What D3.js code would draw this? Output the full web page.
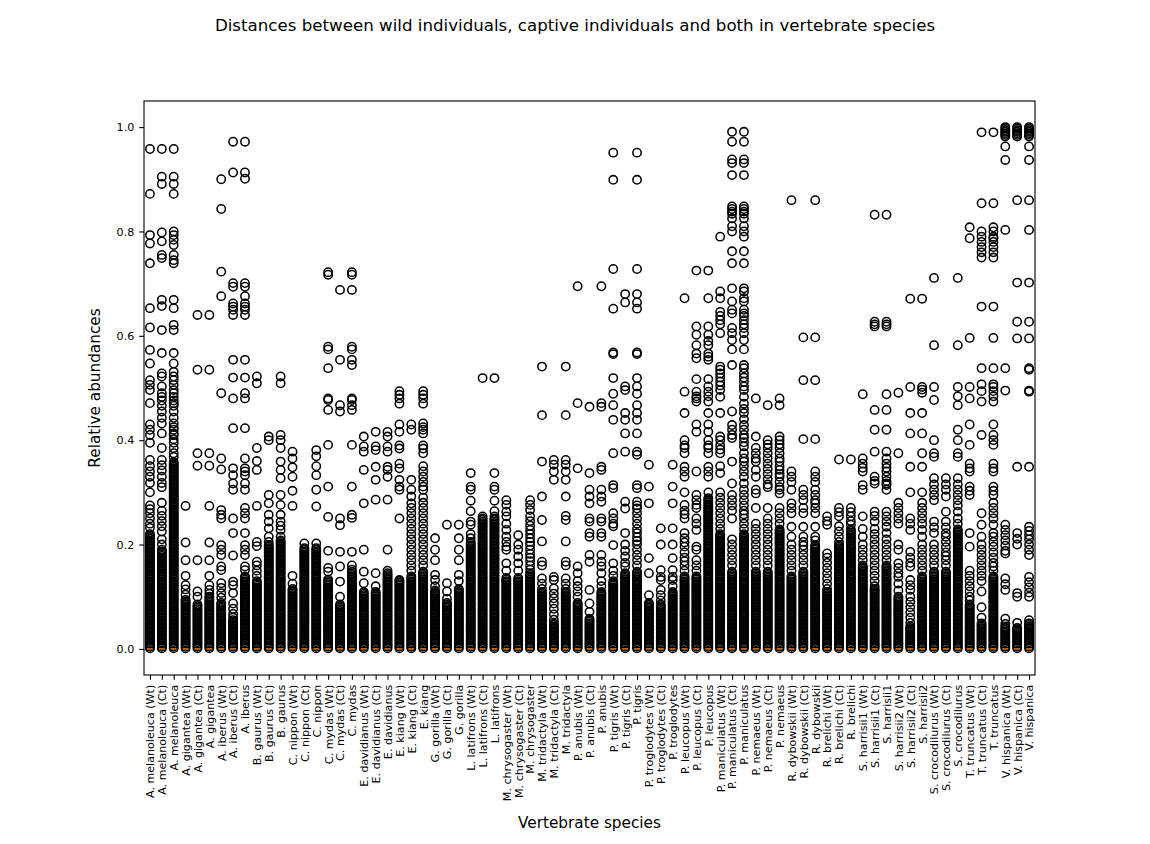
<!DOCTYPE html>
<html>
<head>
<meta charset="utf-8">
<script src="https://cdn.jsdelivr.net/npm/d3@7"></script>
<style>
  body { margin: 0; background: #fff; }
  svg { display: block; font-family: "DejaVu Sans", sans-serif; }
</style>
</head>
<body>
<svg id="chart" width="1150" height="844"></svg>
<script>
// species, three boxes each: wild, captive, both
var species = ["A. melanoleuca", "A. gigantea", "A. iberus", "B. gaurus", "C. nippon",
  "C. mydas", "E. davidianus", "E. kiang", "G. gorilla", "L. latifrons",
  "M. chrysogaster", "M. tridactyla", "P. anubis", "P. tigris", "P. troglodytes",
  "P. leucopus", "P. maniculatus", "P. nemaeus", "R. dybowskii", "R. brelichi",
  "S. harrisii1", "S. harrisii2", "S. crocodilurus", "T. truncatus", "V. hispanica"];
var groups = [" (Wt)", " (Ct)", ""];

var yTicks = [0, 0.2, 0.4, 0.6, 0.8, 1.0];

// every box sits on zero: q1, median, q3 and whisker ends
var quartiles = [0, 0, 0.002];
var whiskerEnds = [0, 0.004];

// outliers are in thousandths. the low ones pile up into a solid column,
// each box keeps the ones below its own solidTop
var lowFliers = [1, 4, 7, 10, 13, 16, 19, 22, 25, 28, 31, 34, 37, 40, 43, 46, 49,
  52, 55, 58, 61, 64, 67, 70, 73, 76, 79, 82, 85, 88, 91, 94, 97, 100, 103, 106,
  109, 112, 115, 118, 121, 124, 127, 130, 133, 136, 139, 142, 145, 148, 151, 154,
  157, 160, 163, 166, 169, 172, 175, 178, 181, 184, 187, 190, 193, 196, 199, 202,
  205, 208, 211, 214, 217, 220, 223, 226, 229, 232, 235, 238, 241, 244, 247, 250,
  253, 256, 259, 262, 265, 268, 271, 274, 277, 280, 283, 286, 289, 292, 295, 298,
  301, 304, 307, 310, 313, 316, 319, 322, 325, 328, 331, 334, 337, 340, 343, 346,
  349, 352, 355, 358, 361];

var solidTop = [220, 190, 360, 94, 87, 100, 90, 55, 140, 130, 200, 210, 115, 195, 195,
  135, 87, 150, 110, 110, 145, 130, 140, 150, 113, 90, 115, 205, 250, 250,
  138, 138, 145, 110, 50, 110, 90, 58, 110, 130, 145, 150, 90, 85, 110,
  140, 140, 290, 220, 150, 220, 150, 150, 230, 140, 150, 200, 110, 200, 230,
  160, 115, 160, 100, 45, 140, 150, 150, 230, 87, 50, 140, 45, 40, 50];

var upperFliers = [
  [958, 872, 793, 777, 739, 653, 616, 573, 547, 515, 506, 496, 471, 430, 420, 410, 395, 362, 350, 340, 330, 318, 300, 275, 268, 260, 250, 240, 232],
  [958, 905, 891, 798, 781, 755, 749, 669, 657, 611, 567, 528, 522, 503, 490, 483, 476, 466, 455, 443, 432, 413, 385, 362, 352, 342, 330, 318, 310, 280, 265, 255, 245, 235, 225, 210, 200],
  [958, 905, 891, 872, 800, 793, 784, 774, 755, 745, 739, 669, 653, 621, 611, 567, 547, 531, 522, 515, 506, 496, 490, 483, 476, 471, 466, 455, 443, 432, 425, 420, 413, 410, 402, 395, 385, 375, 368],
  [274, 204, 170, 140, 122, 114, 104],
  [640, 535, 375, 351, 170, 110, 100],
  [640, 535, 375, 351, 274, 204, 170, 140, 122, 113, 106],
  [900, 843, 723, 676, 490, 365, 344, 266, 257, 250, 199, 190, 180, 158, 151, 126, 117, 107, 98],
  [972, 913, 701, 694, 662, 656, 650, 640, 554, 520, 480, 423, 346, 333, 317, 305, 250, 222, 179, 129, 122, 107, 87, 77, 67, 60],
  [972, 913, 901, 701, 694, 676, 662, 656, 650, 640, 554, 520, 490, 480, 423, 365, 346, 340, 333, 317, 305, 270, 260, 250, 222, 199, 190, 180, 158, 151],
  [522, 509, 385, 360, 343, 274, 205, 197, 167, 160, 150, 140],
  [407, 400, 295, 279, 257, 244, 231, 215, 205],
  [522, 509, 410, 400, 385, 359, 343, 327, 295, 276, 257, 244, 236, 228, 215],
  [378, 365, 348, 330, 303, 274, 140, 125],
  [202],
  [381, 369, 350, 333, 305, 273, 202],
  [722, 717, 579, 574, 538, 480, 477, 458, 391, 311, 253, 188, 155, 148],
  [688, 554, 467, 455, 250, 237, 186, 158, 129, 100],
  [722, 717, 688, 579, 574, 554, 544, 480, 477, 467, 458, 391, 311, 257, 251, 186, 160, 152],
  [407, 388, 378, 343, 279, 190, 148, 126],
  [416, 388, 381, 349, 324, 286, 145, 120],
  [416, 407, 388, 378, 349, 343, 330, 286, 190, 150],
  [494, 487, 480, 470, 430, 416, 390, 384, 355, 346, 324, 311, 305, 250, 132],
  [430, 420, 324, 305, 292, 279, 270, 260, 250, 240, 230, 220, 210, 200, 190, 180, 170, 160, 150],
  [494, 487, 480, 470, 432, 425, 420, 413, 390, 384, 375, 350, 340, 330, 320, 311, 305, 290, 280, 270, 260, 250, 240, 230, 220, 210, 200, 190, 180, 170, 160],
  [212, 190, 170, 142, 132, 120],
  [238, 126, 110, 96],
  [238, 212, 190, 170, 142, 130],
  [337, 311, 305, 284, 264, 244, 238, 220, 212],
  [519, 254],
  [519, 337, 311, 305, 284, 264, 254],
  [285, 276, 263, 254, 240, 228, 215, 205, 196, 190, 164, 150],
  [218, 200, 190, 177, 164, 150],
  [285, 276, 266, 254, 245, 236, 228, 220, 212, 205, 198, 190, 182, 175, 168, 160, 152],
  [541, 448, 359, 292, 247, 206, 167, 160, 135, 125, 115],
  [362, 353, 340, 324, 138, 132, 116, 106, 97, 87, 77, 66, 56],
  [541, 448, 362, 353, 340, 324, 292, 255, 247, 206, 167, 160, 135, 125, 115],
  [695, 471, 346, 158, 145, 130, 120, 110, 100],
  [464, 337, 305, 292, 279, 250, 244, 222, 215, 180, 167, 113, 87, 71],
  [695, 471, 464, 349, 343, 305, 292, 282, 250, 244, 222, 215, 180, 167, 158, 145, 130, 120],
  [951, 899, 728, 652, 568, 565, 519, 489, 467, 439, 375, 314, 308, 260, 250, 240, 235, 199, 164, 150, 140],
  [680, 664, 503, 496, 452, 439, 413, 378, 282, 269, 222, 200, 188, 177, 165, 158],
  [951, 899, 728, 680, 664, 652, 568, 565, 519, 503, 489, 467, 452, 439, 413, 378, 372, 314, 308, 282, 275, 269, 260, 250, 240, 230, 222, 214, 207, 200, 190, 180, 170, 160],
  [353, 311, 279, 174, 145, 103],
  [231, 200, 151, 138, 132, 113, 103, 93],
  [353, 311, 279, 231, 200, 174, 151, 138, 132, 120],
  [672, 493, 452, 400, 390, 385, 375, 349, 340, 330, 300, 276, 265, 258, 250, 222, 212, 204, 196, 185, 175, 168, 160, 150],
  [725, 618, 602, 582, 566, 557, 517, 493, 484, 480, 474, 430, 416, 340, 295, 285, 276, 270, 250, 240, 228, 196, 190, 170, 160, 150],
  [725, 672, 618, 602, 590, 582, 566, 560, 554, 517, 503, 493, 484, 474, 452, 430, 416, 400, 390, 385, 375, 349, 340, 330, 300],
  [790, 685, 672, 646, 638, 630, 622, 605, 541, 535, 528, 520, 512, 505, 496, 483, 452, 407, 400, 390, 382, 375, 350, 337, 300, 290, 280, 270, 260, 250, 240, 230],
  [991, 972, 938, 931, 908, 848, 843, 838, 834, 825, 810, 800, 762, 739, 691, 666, 650, 643, 615, 605, 592, 574, 544, 455, 429, 420, 410, 404, 359, 317, 295, 285, 275, 265, 250, 210, 200, 190, 180, 170, 160],
  [991, 972, 938, 931, 908, 848, 843, 838, 834, 825, 810, 800, 790, 762, 739, 691, 685, 672, 666, 650, 643, 638, 630, 622, 615, 605, 592, 574, 544, 538, 528, 520, 512, 503, 496, 483, 470, 460, 452, 440, 429, 420, 410, 404, 396, 388, 375, 365, 359, 350, 340, 330, 317, 305, 295, 285, 275, 265, 258, 250, 240, 230],
  [480, 407, 385, 375, 365, 359, 343, 330, 305, 298, 270, 240, 230, 220, 210, 200, 190, 180, 170, 160],
  [467, 400, 392, 385, 375, 365, 355, 345, 335, 325, 315, 310, 270, 250, 240, 230, 220, 210, 200, 190, 180, 170, 160],
  [480, 467, 407, 400, 392, 385, 375, 365, 359, 350, 343, 335, 330, 320, 310, 305, 298, 270, 260, 250, 240],
  [860, 340, 330, 320, 305, 279, 270, 260, 234, 215, 200, 190, 180, 170, 160, 150],
  [597, 515, 402, 305, 295, 285, 270, 260, 234, 215, 205, 198, 190, 180, 170, 160],
  [860, 597, 515, 402, 340, 330, 320, 305, 295, 285, 279, 270, 260, 234, 215, 208],
  [254, 245, 238, 183, 175, 165, 155, 145, 135, 125, 115],
  [363, 270, 262, 254, 235, 225, 215, 205],
  [363, 270, 262, 254, 245, 238],
  [488, 365, 355, 347, 340, 314, 305, 254, 230, 215, 200, 190, 180, 170],
  [832, 627, 622, 618, 458, 420, 378, 330, 322, 317, 263, 255, 244, 230, 220, 210, 200, 190, 180, 170, 160, 150, 140, 130, 120],
  [832, 627, 622, 618, 488, 458, 420, 378, 365, 355, 347, 340, 330, 322, 317, 314, 305, 263, 254, 244, 234, 222, 210, 200, 190, 180, 170],
  [491, 375, 280, 270, 260, 250, 240, 200, 190, 164, 155, 145, 138, 125, 112],
  [671, 502, 452, 413, 349, 300, 250, 240, 228, 186, 175, 165, 158, 132, 122, 113, 100, 90, 80, 70, 60, 50],
  [671, 502, 497, 491, 452, 413, 375, 349, 300, 280, 270, 260, 250, 240, 228, 215, 200, 190, 180, 170, 160, 150],
  [711, 582, 502, 477, 400, 375, 368, 327, 315, 305, 295, 285, 244, 233, 222, 200, 190, 180, 170, 160],
  [327, 315, 305, 292, 263, 244, 233, 222, 215, 205, 195, 185, 178, 170, 160],
  [711, 582, 502, 484, 467, 420, 400, 375, 368, 327, 315, 305, 295, 285, 275, 263, 250, 240],
  [808, 787, 596, 502, 480, 430, 391, 355, 346, 340, 311, 303, 295, 222, 196, 150, 140, 130, 120, 110, 100, 93],
  [990, 854, 800, 790, 780, 770, 760, 750, 656, 538, 507, 494, 474, 410, 260, 238, 215, 200, 190, 180, 170, 160, 150, 140, 130, 110, 80, 60],
  [990, 854, 808, 800, 790, 787, 780, 770, 760, 750, 656, 596, 538, 507, 502, 494, 484, 474, 430, 410, 400, 391, 355, 346, 340, 311, 303, 295, 280, 270, 260, 250, 238, 222, 215, 205, 196, 185, 175, 165, 158, 150],
  [1000, 997, 994, 991, 988, 985, 982, 963, 937, 803, 538, 495, 238, 228, 218, 208, 198, 188, 183, 135, 124, 113, 58, 48],
  [1000, 997, 994, 991, 988, 985, 982, 860, 702, 627, 595, 349, 222, 211, 200, 107, 100, 50],
  [1000, 997, 994, 991, 988, 985, 982, 963, 937, 860, 803, 702, 627, 595, 538, 535, 495, 493, 349, 234, 226, 218, 210, 200, 190, 180, 138, 128, 118, 108, 100, 55]
];

(function () {
  var labels = [];
  species.forEach(function (s) {
    groups.forEach(function (g) { labels.push(s + g); });
  });

  var boxes = labels.map(function (name, i) {
    var fl = lowFliers.filter(function (v) { return v <= solidTop[i]; })
      .concat(upperFliers[i])
      .map(function (v) { return v / 1000; });
    return { name: name, pos: i + 1, fliers: fl };
  });

  // matplotlib figure at 100 dpi: 1 pt = 100/72 px
  var PT = 100 / 72;
  var svg = d3.select("#chart");
  var mL = 144, mR = 1035, mT = 101, mB = 675;

  var x = d3.scaleLinear().domain([0.5, labels.length + 0.5]).range([mL, mR]);
  var y = d3.scaleLinear().domain([-0.05, 1.05]).range([mB, mT]);
  var halfBox = x(1.25) - x(1);

  svg.append("text")
    .attr("x", 575).attr("y", 31)
    .attr("text-anchor", "middle")
    .style("font-size", (12 * PT) + "px")
    .text("Distances between wild individuals, captive individuals and both in vertebrate species");

  var plot = svg.append("g");

  // box, whiskers, caps
  var box = plot.selectAll(".box").data(boxes).enter().append("g").attr("class", "box");
  box.append("line")
    .attr("x1", function (d) { return x(d.pos); }).attr("x2", function (d) { return x(d.pos); })
    .attr("y1", y(whiskerEnds[0])).attr("y2", y(whiskerEnds[1]))
    .attr("stroke", "#000").attr("stroke-width", PT);
  box.append("line")
    .attr("x1", function (d) { return x(d.pos) - halfBox / 2; })
    .attr("x2", function (d) { return x(d.pos) + halfBox / 2; })
    .attr("y1", y(whiskerEnds[1])).attr("y2", y(whiskerEnds[1]))
    .attr("stroke", "#000").attr("stroke-width", PT);
  box.append("rect")
    .attr("x", function (d) { return x(d.pos) - halfBox; })
    .attr("width", 2 * halfBox)
    .attr("y", y(quartiles[2]))
    .attr("height", y(quartiles[0]) - y(quartiles[2]))
    .attr("fill", "none").attr("stroke", "#000").attr("stroke-width", PT);

  // outliers
  box.selectAll("circle")
    .data(function (d) { return d.fliers.map(function (v) { return { pos: d.pos, v: v }; }); })
    .enter().append("circle")
    .attr("cx", function (d) { return x(d.pos); })
    .attr("cy", function (d) { return y(d.v); })
    .attr("r", 3 * PT)
    .attr("fill", "none")
    .attr("stroke", "#000")
    .attr("stroke-width", 1.1 * PT);

  // medians on top
  plot.selectAll(".median").data(boxes).enter().append("line")
    .attr("class", "median")
    .attr("x1", function (d) { return x(d.pos) - halfBox; })
    .attr("x2", function (d) { return x(d.pos) + halfBox; })
    .attr("y1", y(quartiles[1])).attr("y2", y(quartiles[1]))
    .attr("stroke", "#ff7f0e").attr("stroke-width", PT);

  // axes
  var yAxis = d3.axisLeft(y).tickValues(yTicks).tickFormat(d3.format(".1f"))
    .tickSize(3.5 * PT).tickPadding(3.5 * PT);
  var gy = svg.append("g").attr("transform", "translate(" + mL + ",0)").call(yAxis);
  gy.select(".domain").remove();
  gy.selectAll("line").attr("stroke-width", 0.8 * PT);
  gy.selectAll("text").style("font-size", (8 * PT) + "px").attr("font-family", "DejaVu Sans");

  var xAxis = d3.axisBottom(x).tickValues(boxes.map(function (d) { return d.pos; }))
    .tickFormat(function (d) { return labels[d - 1]; })
    .tickSize(3.5 * PT).tickPadding(3.5 * PT);
  var gx = svg.append("g").attr("transform", "translate(0," + mB + ")").call(xAxis);
  gx.select(".domain").remove();
  gx.selectAll("line").attr("stroke-width", 0.8 * PT);
  gx.selectAll("text")
    .style("font-size", (8 * PT) + "px").attr("font-family", "DejaVu Sans")
    .attr("text-anchor", "end")
    .attr("x", 0).attr("y", 0).attr("dy", "0.35em")
    .attr("transform", "translate(0," + (7 * PT) + ") rotate(-90)");

  svg.append("rect")
    .attr("x", mL).attr("y", mT)
    .attr("width", mR - mL).attr("height", mB - mT)
    .attr("fill", "none").attr("stroke", "#000").attr("stroke-width", 0.8 * PT);

  svg.append("text")
    .attr("x", (mL + mR) / 2).attr("y", 828)
    .attr("text-anchor", "middle")
    .style("font-size", (11 * PT) + "px")
    .text("Vertebrate species");

  svg.append("text")
    .attr("transform", "translate(100," + ((mT + mB) / 2) + ") rotate(-90)")
    .attr("text-anchor", "middle")
    .style("font-size", (11 * PT) + "px")
    .text("Relative abundances");
})();
</script>
</body>
</html>
